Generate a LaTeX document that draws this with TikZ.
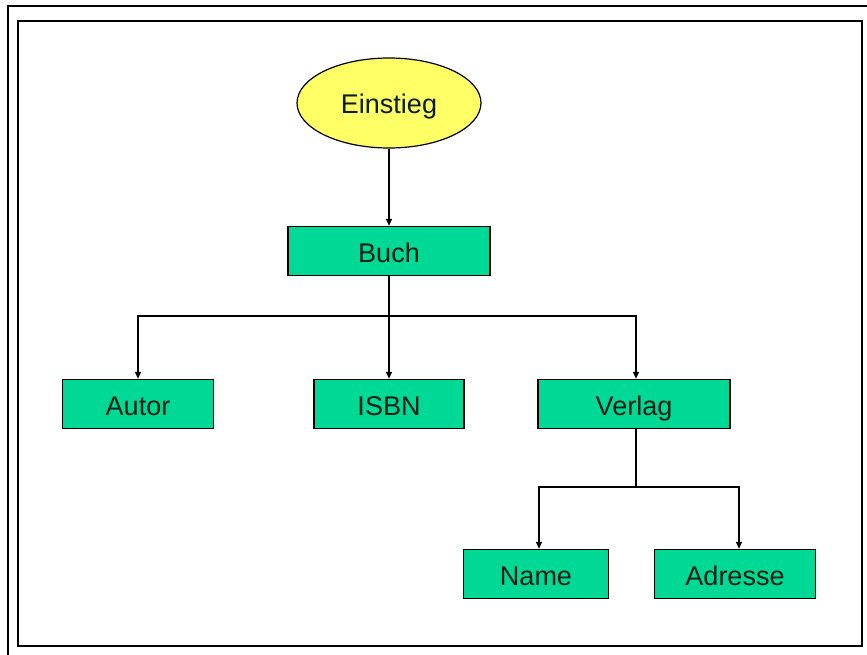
\documentclass[tikz,border=0pt]{standalone}
\usepackage{fontspec}
\setmainfont{Liberation Sans}
\usetikzlibrary{shapes.geometric,arrows.meta}
\definecolor{boxgreen}{RGB}{0,216,150}
\definecolor{elyellow}{RGB}{255,255,102}
\definecolor{txt}{RGB}{10,30,20}
\tikzset{
  lbl/.style={font=\fontsize{27}{32}\selectfont, text=txt, text height=23pt, text depth=1pt},
  entity/.style={lbl, draw=black, line width=1.3pt, fill=boxgreen, minimum height=49pt, inner sep=0pt},
  startnode/.style={lbl, ellipse, draw=black, line width=1.2pt, fill=elyellow, minimum width=184pt, minimum height=90pt, inner sep=0pt},
  conn/.style={line width=1.3pt},
  arr/.style={conn, -{Triangle[length=7pt,width=6pt]}}
}
\begin{document}
\begin{tikzpicture}[x=1pt,y=-1pt]
\useasboundingbox (0,0) rectangle (867,655);
\fill[white] (0,0) rectangle (867,655);
% frames
\draw[line width=2pt] (8,655) -- (8,6) -- (867,6);
\draw[line width=1.8pt] (18,21) rectangle (862,646);
% nodes
\node[startnode] (ein) at (389,103) {Einstieg};
\node[entity, minimum width=202pt] (buch) at (389,251) {Buch};
\node[entity, minimum width=151pt] (autor) at (138,404) {Autor};
\node[entity, minimum width=150pt] (isbn) at (389,404) {ISBN};
\node[entity, minimum width=192pt] (verlag) at (634,404) {Verlag};
\node[entity, minimum width=145pt] (name) at (536,574) {Name};
\node[entity, minimum width=161pt] (adr) at (735,574) {Adresse};
% junction coordinates
\coordinate (j1) at (389,316);
\coordinate (j2) at (636,487);
% connectors
\draw[arr] (ein) -- (buch);
\draw[conn] (buch.south) -- (j1);
\draw[arr] (j1) -| (autor.north);
\draw[arr] (j1) -- (isbn.north);
\draw[arr] (j1) -| ([xshift=2pt]verlag.north);
\draw[conn] ([xshift=2pt]verlag.south) -- (j2);
\draw[arr] (j2) -| ([xshift=3pt]name.north);
\draw[arr] (j2) -| ([xshift=4pt]adr.north);
\end{tikzpicture}
\end{document}
